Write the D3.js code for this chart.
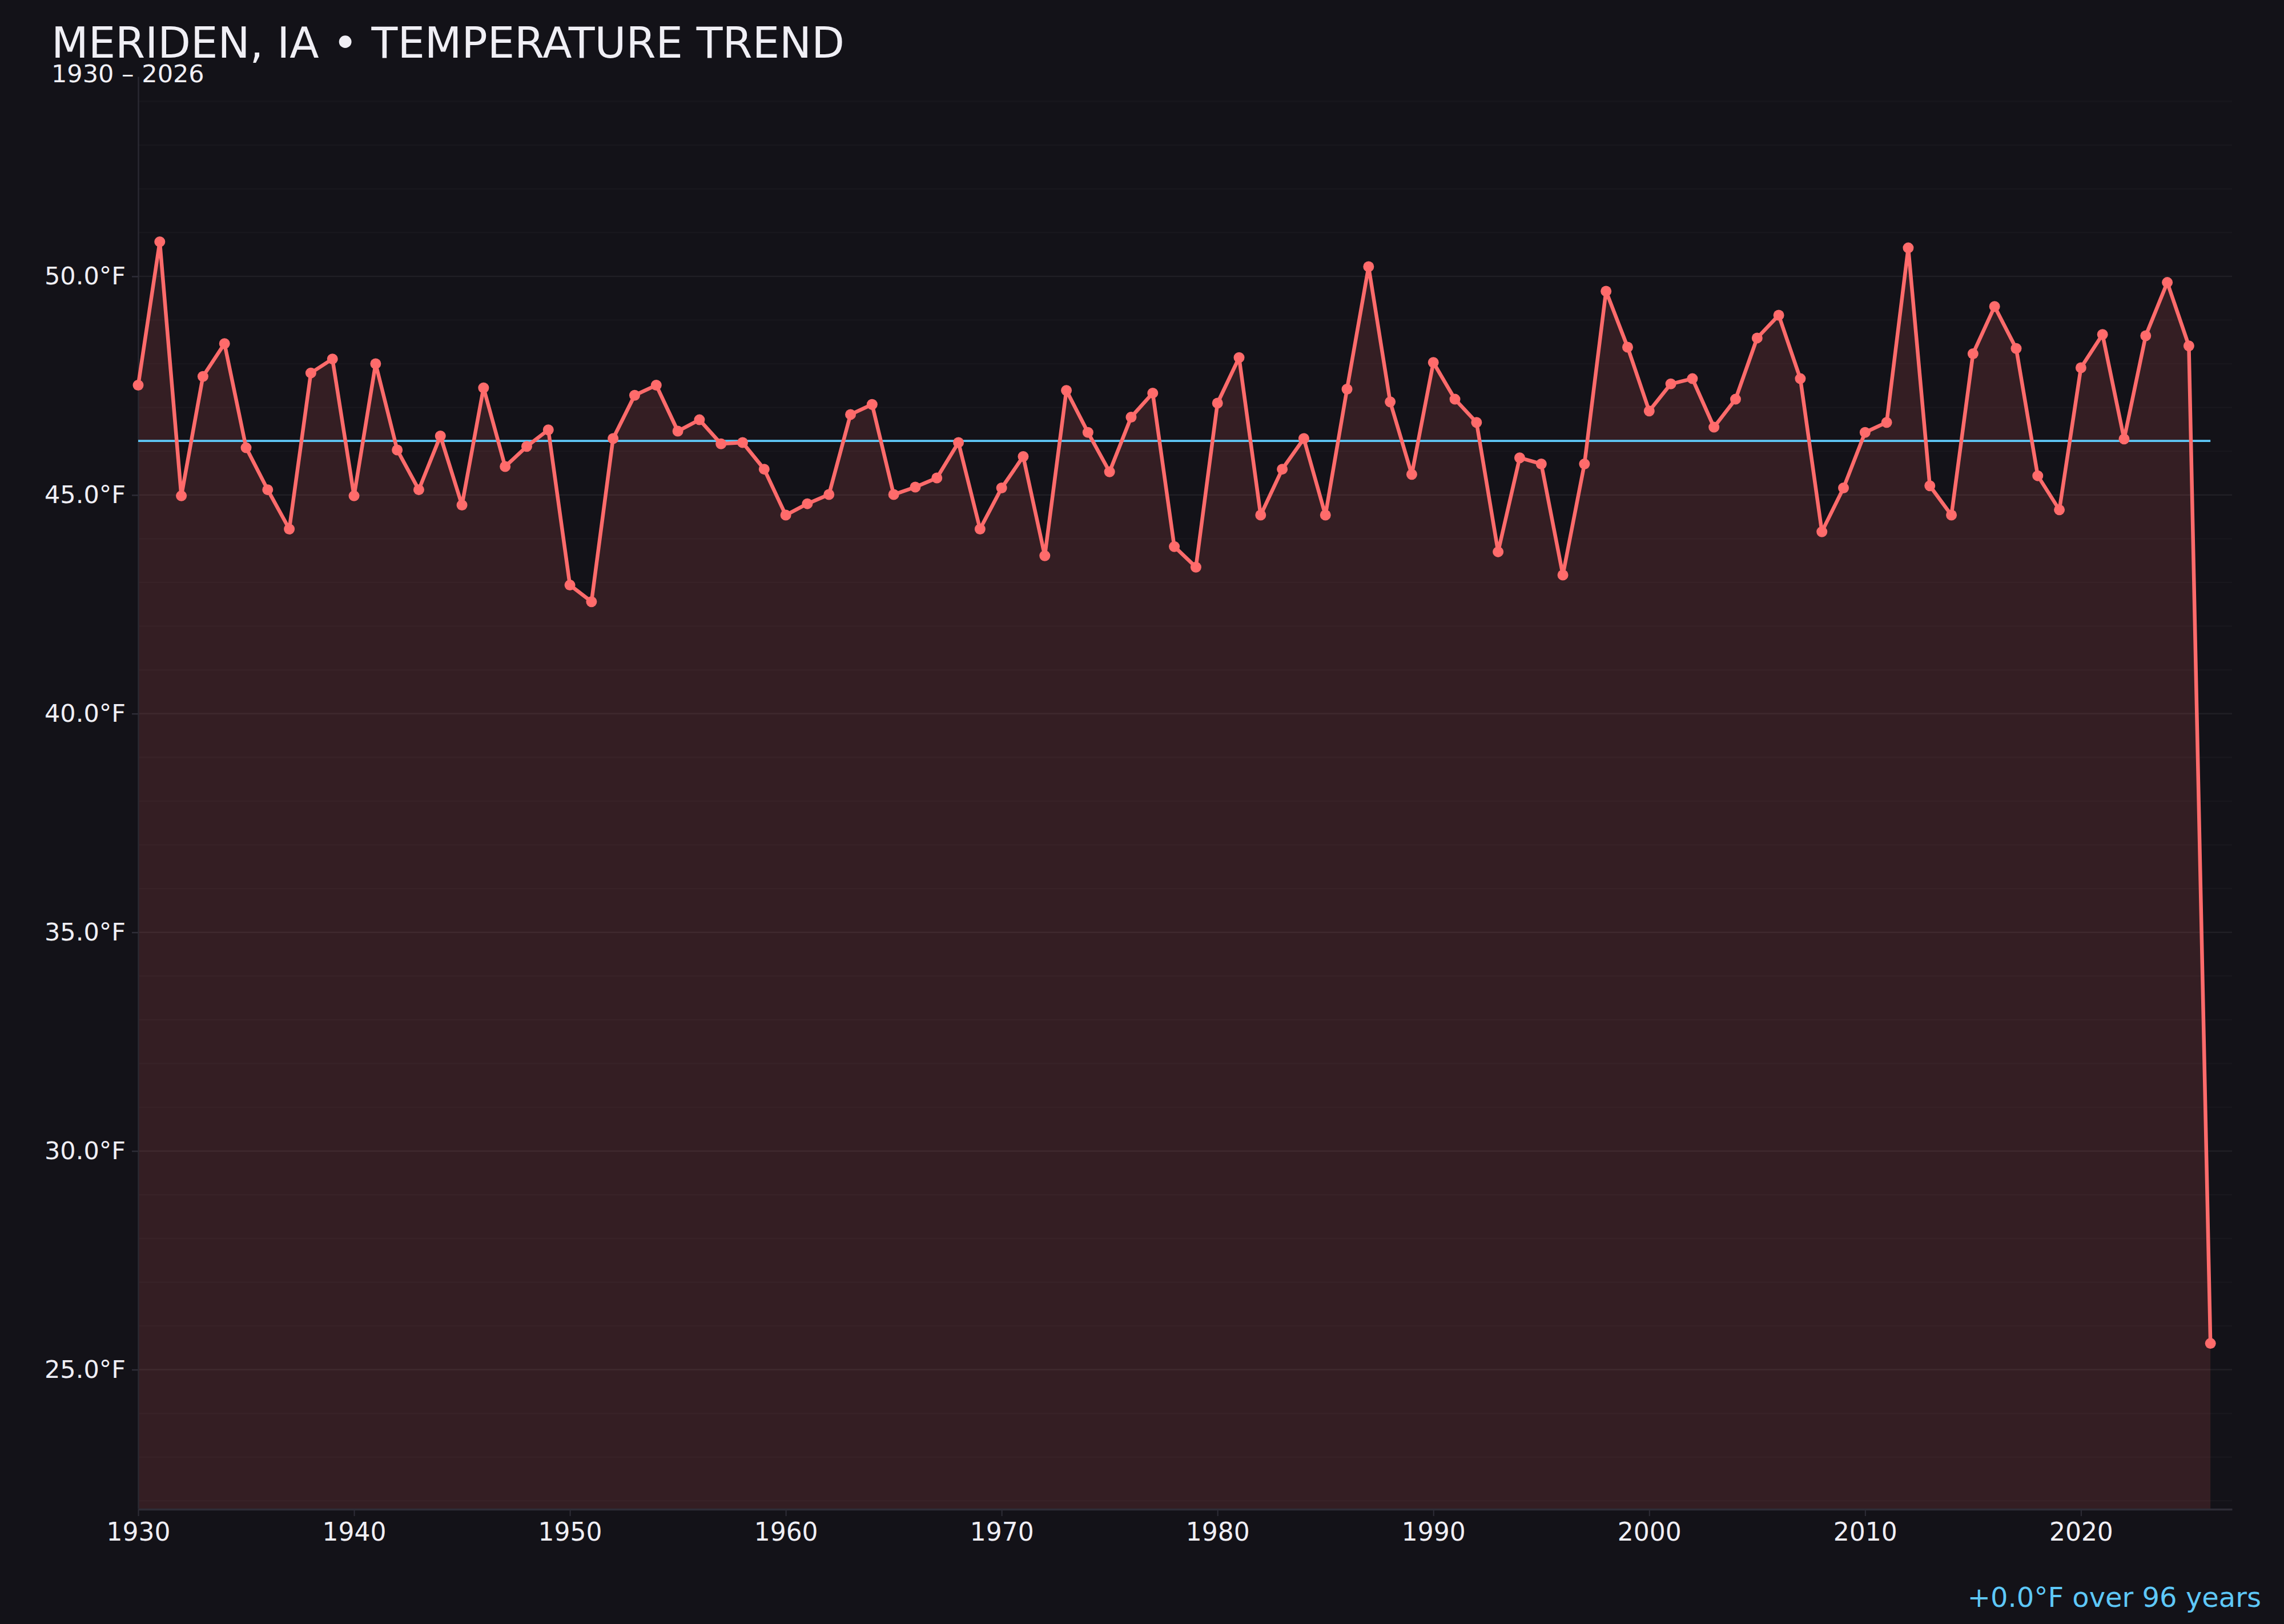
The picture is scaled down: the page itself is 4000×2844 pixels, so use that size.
<!DOCTYPE html>
<html>
<head>
<meta charset="utf-8">
<script src="https://cdn.jsdelivr.net/npm/d3@7"></script>
<style>
  body { margin: 0; background: #131218; }
  svg { display: block; font-family: "DejaVu Sans", sans-serif; }
</style>
</head>
<body>
<svg id="chart" width="4000" height="2844"></svg>
<script>
// annual mean temperature, Meriden IA
const years = [
  1930, 1931, 1932, 1933, 1934, 1935, 1936, 1937, 1938, 1939,
  1940, 1941, 1942, 1943, 1944, 1945, 1946, 1947, 1948, 1949,
  1950, 1951, 1952, 1953, 1954, 1955, 1956, 1957, 1958, 1959,
  1960, 1961, 1962, 1963, 1964, 1965, 1966, 1967, 1968, 1969,
  1970, 1971, 1972, 1973, 1974, 1975, 1976, 1977, 1978, 1979,
  1980, 1981, 1982, 1983, 1984, 1985, 1986, 1987, 1988, 1989,
  1990, 1991, 1992, 1993, 1994, 1995, 1996, 1997, 1998, 1999,
  2000, 2001, 2002, 2003, 2004, 2005, 2006, 2007, 2008, 2009,
  2010, 2011, 2012, 2013, 2014, 2015, 2016, 2017, 2018, 2019,
  2020, 2021, 2022, 2023, 2024, 2025, 2026
];
const temps = [
  47.51, 50.79, 44.98, 47.71, 48.46, 46.08, 45.12, 44.22, 47.79, 48.11,
  44.98, 48.00, 46.03, 45.12, 46.35, 44.77, 47.45, 45.65, 46.11, 46.49,
  42.94, 42.56, 46.29, 47.28, 47.51, 46.46, 46.72, 46.17, 46.20, 45.59,
  44.54, 44.80, 45.01, 46.84, 47.07, 45.01, 45.18, 45.39, 46.20, 44.22,
  45.16, 45.88, 43.61, 47.39, 46.43, 45.53, 46.78, 47.33, 43.82, 43.35,
  47.10, 48.14, 44.54, 45.59, 46.29, 44.54, 47.42, 50.22, 47.13, 45.47,
  48.03, 47.19, 46.66, 43.70, 45.85, 45.71, 43.17, 45.71, 49.66, 48.38,
  46.92, 47.54, 47.66, 46.55, 47.19, 48.59, 49.11, 47.66, 44.16, 45.16,
  46.43, 46.66, 50.65, 45.21, 44.54, 48.23, 49.31, 48.35, 45.44, 44.66,
  47.91, 48.67, 46.28, 48.64, 49.86, 48.41, 25.60
];
const xTicks = [1930, 1940, 1950, 1960, 1970, 1980, 1990, 2000, 2010, 2020];
const yTicks = [25, 30, 35, 40, 45, 50];
const titleText = "MERIDEN, IA \u2022 TEMPERATURE TREND";
const subtitleText = "1930 \u2013 2026";
const trendText = "+0.0\u00b0F over 96 years";

const W = 4000, H = 2844;
const margin = {top: 134, right: 91, bottom: 202, left: 242};
const svg = d3.select("#chart");
const data = years.map((yr, i) => ({year: yr, t: temps[i]}));

const x = d3.scaleLinear()
  .domain([years[0], years[years.length - 1] + 1])
  .range([margin.left, W - margin.right]);
const lo = d3.min(temps), hi = d3.max(temps), pad = (hi - lo) * 0.15;
const y = d3.scaleLinear()
  .domain([lo - pad, hi + pad])
  .range([H - margin.bottom, margin.top]);

// grid: faint every degree, a bit stronger on labelled ticks
const minor = d3.range(Math.ceil(y.domain()[0]), Math.floor(y.domain()[1]) + 1);
svg.append("g").selectAll("line").data(minor).join("line")
  .attr("x1", margin.left).attr("x2", W - margin.right)
  .attr("y1", d => y(d)).attr("y2", d => y(d))
  .attr("stroke", "#ffffff")
  .attr("stroke-opacity", d => d % 5 === 0 ? 0.06 : 0.022)
  .attr("stroke-width", 2.5);

// area under the line
const area = d3.area()
  .x(d => x(d.year))
  .y0(y.range()[0])
  .y1(d => y(d.t));
svg.append("path").datum(data)
  .attr("d", area)
  .attr("fill", "#ff6b6b")
  .attr("fill-opacity", 0.14);

// axes
const xAxis = svg.append("g")
  .attr("transform", `translate(0,${H - margin.bottom + 1})`)
  .call(d3.axisBottom(x).tickValues(xTicks).tickFormat(d3.format("d"))
    .tickSize(12).tickPadding(12).tickSizeOuter(0));
xAxis.select(".domain").attr("stroke", "#2e2d37").attr("stroke-width", 3.5);
xAxis.selectAll(".tick line").attr("stroke", "#2e2d37").attr("stroke-width", 2);
xAxis.selectAll("text").attr("fill", "#f0eff5").attr("font-size", 44)
  .attr("font-family", "DejaVu Sans");

const yAxis = svg.append("g")
  .attr("transform", `translate(${margin.left},0)`)
  .call(d3.axisLeft(y).tickValues(yTicks).tickFormat(d => d.toFixed(1) + "\u00b0F")
    .tickSize(11).tickPadding(11).tickSizeOuter(0));
yAxis.select(".domain").attr("stroke", "#2a2931").attr("stroke-width", 2.5);
yAxis.selectAll(".tick line").attr("stroke", "#2e2d37").attr("stroke-width", 2.5);
yAxis.selectAll("text").attr("fill", "#f0eff5").attr("font-size", 43)
  .attr("font-family", "DejaVu Sans");

// mean line
const mean = d3.mean(temps);
svg.append("line")
  .attr("x1", x(years[0])).attr("x2", x(years[years.length - 1]))
  .attr("y1", y(mean)).attr("y2", y(mean))
  .attr("stroke", "#5ec8f8").attr("stroke-width", 3.7);

// temperature line + points
const line = d3.line().x(d => x(d.year)).y(d => y(d.t));
svg.append("path").datum(data)
  .attr("d", line)
  .attr("fill", "none")
  .attr("stroke", "#ff6b6b")
  .attr("stroke-width", 6.5)
  .attr("stroke-linejoin", "round");
svg.append("g").selectAll("circle").data(data).join("circle")
  .attr("cx", d => x(d.year)).attr("cy", d => y(d.t))
  .attr("r", 9.5)
  .attr("fill", "#ff6b6b");

// texts
svg.append("text").attr("x", 90).attr("y", 101)
  .attr("font-size", 75).attr("fill", "#f0eff5")
  .text(titleText);
svg.append("text").attr("x", 90).attr("y", 144)
  .attr("font-size", 43).attr("fill", "#f0eff5")
  .text(subtitleText);
svg.append("text").attr("x", 3960).attr("y", 2814)
  .attr("text-anchor", "end")
  .attr("font-size", 48).attr("fill", "#5ec8f8")
  .text(trendText);
</script>
</body>
</html>
